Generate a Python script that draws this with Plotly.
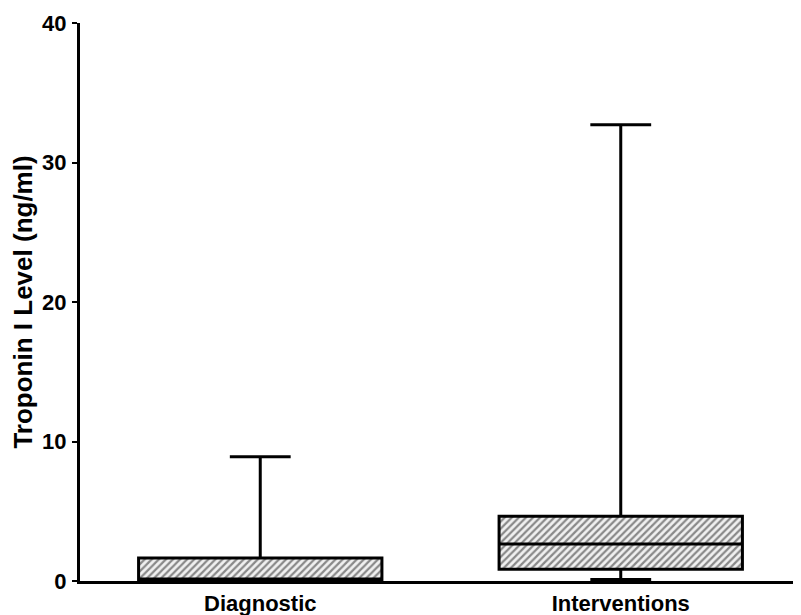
import plotly.graph_objects as go

categories = ["Diagnostic", "Interventions"]
lower = [0.0, 0.1]
q1 = [0.05, 0.85]
median = [0.15, 2.65]
q3 = [1.65, 4.65]
upper = [8.9, 32.7]
y_ticks = [0, 10, 20, 30, 40]

BW = 0.675
FAM = "Liberation Sans, Arial, sans-serif"
tick_font = dict(family=FAM, size=22, color="black", weight="bold")
title_font = dict(family=FAM, size=26, color="black", weight="bold")

fig = go.Figure()
fig.add_trace(go.Bar(
    x=categories, base=q1, y=[b - a for a, b in zip(q1, q3)], width=BW,
    marker=dict(color="white", line=dict(width=0),
                pattern=dict(shape="/", fgcolor="#222222", bgcolor="#f0f0f0", size=5, solidity=0.45)),
    showlegend=False, hoverinfo="skip"))
fig.add_trace(go.Box(
    x=categories, q1=q1, median=median, q3=q3, lowerfence=lower, upperfence=upper,
    width=BW, whiskerwidth=0.25, fillcolor="rgba(0,0,0,0)",
    line=dict(color="black", width=3), marker=dict(size=0), boxpoints=False,
    showlegend=False))

# page is rendered with an 8px body margin, so the figure is offset by (8, 8)
fig.update_layout(
    width=793, height=607, margin=dict(l=72, r=0, t=15, b=34),
    paper_bgcolor="white", plot_bgcolor="white", barmode="overlay", boxmode="overlay",
    font=tick_font,
    xaxis=dict(range=[-0.5, 1.5], showline=True, linecolor="black", linewidth=3,
               showgrid=False, zeroline=False, ticks="", ticklabelstandoff=1,
               tickfont=tick_font),
    yaxis=dict(range=[0, 40], tickvals=y_ticks, showline=True, linecolor="black", linewidth=3,
               showgrid=False, zeroline=False, ticks="outside", ticklen=5, tickwidth=2,
               tickcolor="black", tickfont=tick_font, ticklabelstandoff=1,
               title=dict(text="Troponin I Level (ng/ml)", font=title_font, standoff=6)),
)
fig.write_html("out.html")
